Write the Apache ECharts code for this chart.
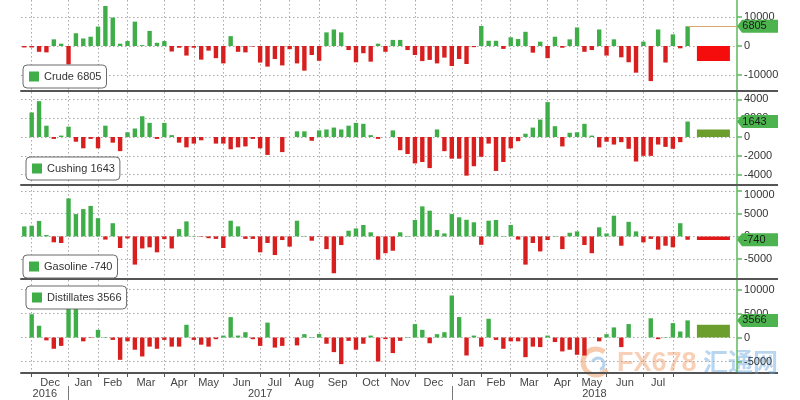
<!DOCTYPE html>
<html><head><meta charset="utf-8">
<script src="https://cdn.jsdelivr.net/npm/echarts@6/dist/echarts.min.js"></script>
<style>html,body{margin:0;padding:0;background:#fff}#c{width:800px;height:400px}</style>
</head><body><div id="c"></div>
<script>
// ---------- data (weekly changes, k = -1 .. 89 relative to the Dec-2016 tick) ----------
const crude = [-500,-500,-2000,-2200,2300,800,-6300,4400,2600,3200,6700,13800,9800,800,1700,8400,300,5200,1100,1700,
  -1900,-600,-3300,-600,-4700,-1600,-4200,-6000,3400,-2000,-2200,-200,-5700,-7100,-4500,-6700,-1100,-6000,-8500,-3100,
  -5100,4700,5700,4700,-1400,-5600,-2500,-5400,800,-2000,2100,2100,-1400,-3100,-5200,-4800,-6000,-4000,-6900,-4500,
  -6200,-400,6900,1800,1800,-1000,3000,2400,4900,-2300,1500,-4200,3200,-600,2300,6400,-2000,-1400,5700,-3300,
  2300,-3900,-5600,-9200,1500,-12100,5700,-5700,4000,-800,6805];
const cushing = [0,2600,3800,1200,-200,150,1100,-500,-1200,-200,-1200,1200,-600,-1500,500,900,2200,1500,-200,1500,
  200,-600,-1100,-700,-350,0,-700,-700,-1300,-1100,-1000,-200,-1200,-1900,0,-1600,0,600,600,-400,
  700,800,1000,800,1200,1500,1400,200,-200,0,700,-1400,-1800,-2800,-2650,-3300,800,-1500,-2300,-2300,
  -4100,-3100,-2100,-700,-3600,-2650,-1200,-450,350,1000,1850,3700,1150,-1000,450,500,1400,150,-1100,-500,
  -800,-550,-1250,-2600,-2000,-2000,-800,-1050,-1250,-550,1643];
const gasoline = [2200,2350,3400,300,-1300,-1450,8350,4900,6000,6700,4000,-700,2900,-2550,-450,-6200,-2650,-2400,-3500,-600,
  -2650,1600,3300,100,-100,-400,-550,-2550,3450,2200,-550,-550,-3500,-1450,-4100,-800,-2250,3450,100,-950,
  -100,-2800,-8100,-1900,1250,1750,2500,900,-5100,-3700,-3150,900,100,3600,6600,5650,1400,650,4900,4200,
  3650,3100,-1850,3450,3600,100,2500,-700,-6200,-1450,-3300,-800,100,-2800,800,1100,-1900,-3700,2000,650,
  4550,-2050,3200,1100,-1300,-550,-2900,-2050,-2400,2900,-740];
const distillates = [0,4850,2450,-600,-2350,-1750,10100,8400,-800,-100,1600,100,-500,-4650,-800,-2550,-3950,-1900,-2350,-500,
  -1900,-1900,2650,-500,-1500,-1900,-350,400,4250,400,1100,-350,-1750,3100,-2100,-1750,0,-1650,700,100,
  750,-1300,-3050,-5550,-700,-2550,-1300,400,-5000,-350,-3250,-700,100,2800,1600,-1200,700,1100,8750,4250,
  -3750,400,-1900,3900,-500,-2350,-800,-800,-4100,-1900,-2000,400,-950,-2900,-2550,-3600,-3750,0,-800,700,
  2100,-2000,2800,0,0,4000,-350,100,3000,1250,3566];
// wide summary blocks at the right of each panel: [base, size]
const summaryBase = [0, 300, 0, 500];
const summarySize = [-5200, 800, -800, 2650];
// axis text
const monthNames = ['Dec','Jan','Feb','Mar','Apr','May','Jun','Jul','Aug','Sep','Oct','Nov','Dec','Jan','Feb','Mar','Apr','May','Jun','Jul'];
const weeksPerMonth = [5,4,4,5,4,4,5,4,4,5,4,4,5,4,4,5,4,4,5,4];
const yearNames = ['2016','2017','2018'];
const yearFirstMonth = [0, 1, 13];
const crudeTicks = [-10000, 0, 10000];
const cushingTicks = [-4000, -2000, 0, 2000, 4000];
const gasolineTicks = [-5000, 0, 5000, 10000];
const distTicks = [-5000, 0, 5000, 10000];

// ---------- layout / style ----------
const FONT = '"Liberation Sans", Arial, sans-serif';
const GREEN = '#3fae49', RED = '#d81f1f', AXG = '#5cb85c', BOXG = '#4cb34f';
const firstWeek = -1;
const xMin = -1.45, xMax = 95.7;
const summaryWeek = 92.5;
const gridLeft = 21, gridRight = 63;

const monthTicks = [0];
weeksPerMonth.forEach((w, i) => monthTicks.push(monthTicks[i] + w));
const monthMids = weeksPerMonth.map((w, i) => (monthTicks[i] + monthTicks[i + 1]) / 2);
const yearTicks = yearFirstMonth.slice(1).map(m => monthTicks[m]);
const yearBounds = [xMin, ...yearTicks, xMax];
const yearMids = yearNames.map((y, i) => (yearBounds[i] + yearBounds[i + 1]) / 2);

const panels = [
  {name: 'Crude', data: crude, ticks: crudeTicks, labels: crudeTicks, top: 0, height: 91, min: -15517, max: 15862,
   legendLeft: 23, legendTop: 65, sumColor: '#f50d0d'},
  {name: 'Cushing', data: cushing, ticks: cushingTicks, labels: cushingTicks, top: 92, height: 93, min: -5090, max: 4772,
   legendLeft: 26, legendTop: 157, sumColor: '#6c9e2e'},
  {name: 'Gasoline', data: gasoline, ticks: gasolineTicks, labels: gasolineTicks, top: 186, height: 93, min: -9363, max: 11077,
   legendLeft: 23, legendTop: 255, sumColor: '#e01818', shiftTop: true},
  {name: 'Distillates', data: distillates, ticks: distTicks, labels: distTicks, top: 280, height: 93, min: -7396, max: 11979,
   legendLeft: 26, legendTop: 286, sumColor: '#6c9e2e'}
];
panels.forEach(p => { p.last = p.data[p.data.length - 1]; p.title = p.name + ' ' + p.last; });

const dash = {color: '#a9a9a9', type: [1.5, 2.5], width: 1};
const grid = panels.map(p => ({left: gridLeft, right: gridRight, top: p.top, height: p.height}));

const xAxis = [];
panels.forEach((p, i) => {
  const bottom = i === panels.length - 1;
  xAxis.push({
    type: 'value', gridIndex: i, min: xMin, max: xMax, position: 'bottom',
    axisLine: {show: true, onZero: false, lineStyle: {color: '#555', width: 2}},
    axisTick: {show: bottom, customValues: monthTicks, length: 4, lineStyle: {color: '#555', width: 1}},
    axisLabel: bottom ? {
      customValues: monthMids, margin: 4, color: '#444', fontSize: 11, fontFamily: FONT,
      formatter: v => { let b = 0; monthMids.forEach((m, j) => { if (Math.abs(m - v) < Math.abs(monthMids[b] - v)) b = j; }); return monthNames[b]; }
    } : {show: false},
    splitLine: {show: true, lineStyle: dash}
  });
});
panels.forEach((p, i) => {
  xAxis.push({type: 'value', gridIndex: i, min: xMin, max: xMax, show: false,
    axisLine: {show: false, onZero: false}, splitLine: {show: false}});
});
xAxis.push({
  type: 'value', gridIndex: 3, min: xMin, max: xMax, position: 'bottom', offset: 13,
  axisLine: {show: false, onZero: false},
  axisTick: {show: true, customValues: yearTicks, length: 14, lineStyle: {color: '#777', width: 1}},
  axisLabel: {customValues: yearMids, margin: 2, color: '#444', fontSize: 11, fontFamily: FONT,
    formatter: v => { let b = 0; yearMids.forEach((m, j) => { if (Math.abs(m - v) < Math.abs(yearMids[b] - v)) b = j; }); return yearNames[b]; }},
  splitLine: {show: false}
});

const yAxis = panels.map((p, i) => ({
  type: 'value', gridIndex: i, position: 'right', min: p.min, max: p.max,
  axisLine: {show: true, onZero: false, lineStyle: {color: AXG, width: 1.5}},
  axisTick: {show: true, customValues: p.ticks, length: 5, lineStyle: {color: AXG, width: 1.5}},
  axisLabel: {customValues: p.labels, color: '#333', fontSize: 11, fontFamily: FONT, margin: 7,
    formatter: v => (p.shiftTop && v === p.labels[p.labels.length - 1]) ? '{t|' + v + '}' : String(v),
    rich: {t: {padding: [9, 0, 0, 0], color: '#333', fontSize: 11, fontFamily: FONT}}},
  splitLine: {show: true, lineStyle: dash}
}));

const series = [];
panels.forEach((p, i) => {
  const lastWeek = p.data.length - 1 + firstWeek;
  const s = {
    name: p.title, type: 'bar', xAxisIndex: i, yAxisIndex: i, barWidth: 4.4,
    data: p.data.map((v, j) => [j + firstWeek, v]),
    itemStyle: {color: prm => (prm.value[1] >= 0 ? GREEN : RED)},
    emphasis: {disabled: true}, silent: true,
    markPoint: {
      silent: true, animation: false,
      symbol: 'path://M0,6.5L5,0H41V13H5Z', symbolSize: [41, 13], symbolOffset: [20.5, 0],
      itemStyle: {color: BOXG},
      label: {show: true, color: '#1a1a1a', fontSize: 11, fontFamily: FONT, offset: [-3, 0], formatter: String(p.last)},
      data: [{coord: [xMax, p.last], value: p.last}]
    }
  };
  if (i === 0) {
    s.markLine = {silent: true, animation: false, symbol: ['none', 'none'],
      lineStyle: {color: '#d9a66b', width: 1, type: 'solid'}, label: {show: false},
      data: [[{coord: [lastWeek, p.last]}, {coord: [xMax, p.last]}]]};
  }
  series.push(s);
  series.push({type: 'bar', xAxisIndex: 4 + i, yAxisIndex: i, stack: 'sum' + i, barWidth: 33, silent: true,
    itemStyle: {color: 'rgba(0,0,0,0)'}, data: [[summaryWeek, summaryBase[i]]]});
  series.push({type: 'bar', xAxisIndex: 4 + i, yAxisIndex: i, stack: 'sum' + i, barWidth: 33, silent: true,
    itemStyle: {color: p.sumColor}, data: [[summaryWeek, summarySize[i]]]});
});

const legend = panels.map(p => ({
  data: [{name: p.title, icon: 'rect', itemStyle: {color: GREEN}}],
  left: p.legendLeft, top: p.legendTop, selectedMode: false,
  backgroundColor: '#fff', borderColor: '#6a6a6a', borderWidth: 1, borderRadius: 4,
  padding: [6, 5, 6, 6], itemWidth: 10, itemHeight: 10,
  textStyle: {fontSize: 11, color: '#333', fontFamily: FONT}
}));

const graphic = [];
panels.forEach(p => {
  const y = p.top + p.height;
  graphic.push({type: 'line', silent: true, shape: {x1: 800 - gridRight, y1: y, x2: 778, y2: y}, style: {stroke: '#555', lineWidth: 2}});
});
graphic.push({type: 'arc', silent: true, shape: {cx: 596, cy: 362, r: 13, startAngle: 0.6, endAngle: 5.4}, style: {stroke: 'rgba(238,150,90,0.5)', lineWidth: 5, fill: 'none'}});
graphic.push({type: 'arc', silent: true, shape: {cx: 598, cy: 364, r: 6, startAngle: 3.5, endAngle: 7.5}, style: {stroke: 'rgba(110,165,220,0.5)', lineWidth: 3, fill: 'none'}});
graphic.push({type: 'text', silent: true, left: 617, top: 350, style: {text: 'FX678', font: 'bold 27px "Liberation Sans"', fill: 'rgba(240,150,95,0.45)'}});
graphic.push({type: 'text', silent: true, left: 703, top: 349, style: {text: '汇通网', font: 'bold 25px "Noto Sans CJK SC"', fill: 'rgba(100,165,225,0.45)'}});

const chart = echarts.init(document.getElementById('c'), null, {renderer: 'canvas'});
chart.setOption({animation: false, backgroundColor: '#fff', grid, xAxis, yAxis, series, legend, graphic,
  textStyle: {fontFamily: FONT}});
</script></body></html>
